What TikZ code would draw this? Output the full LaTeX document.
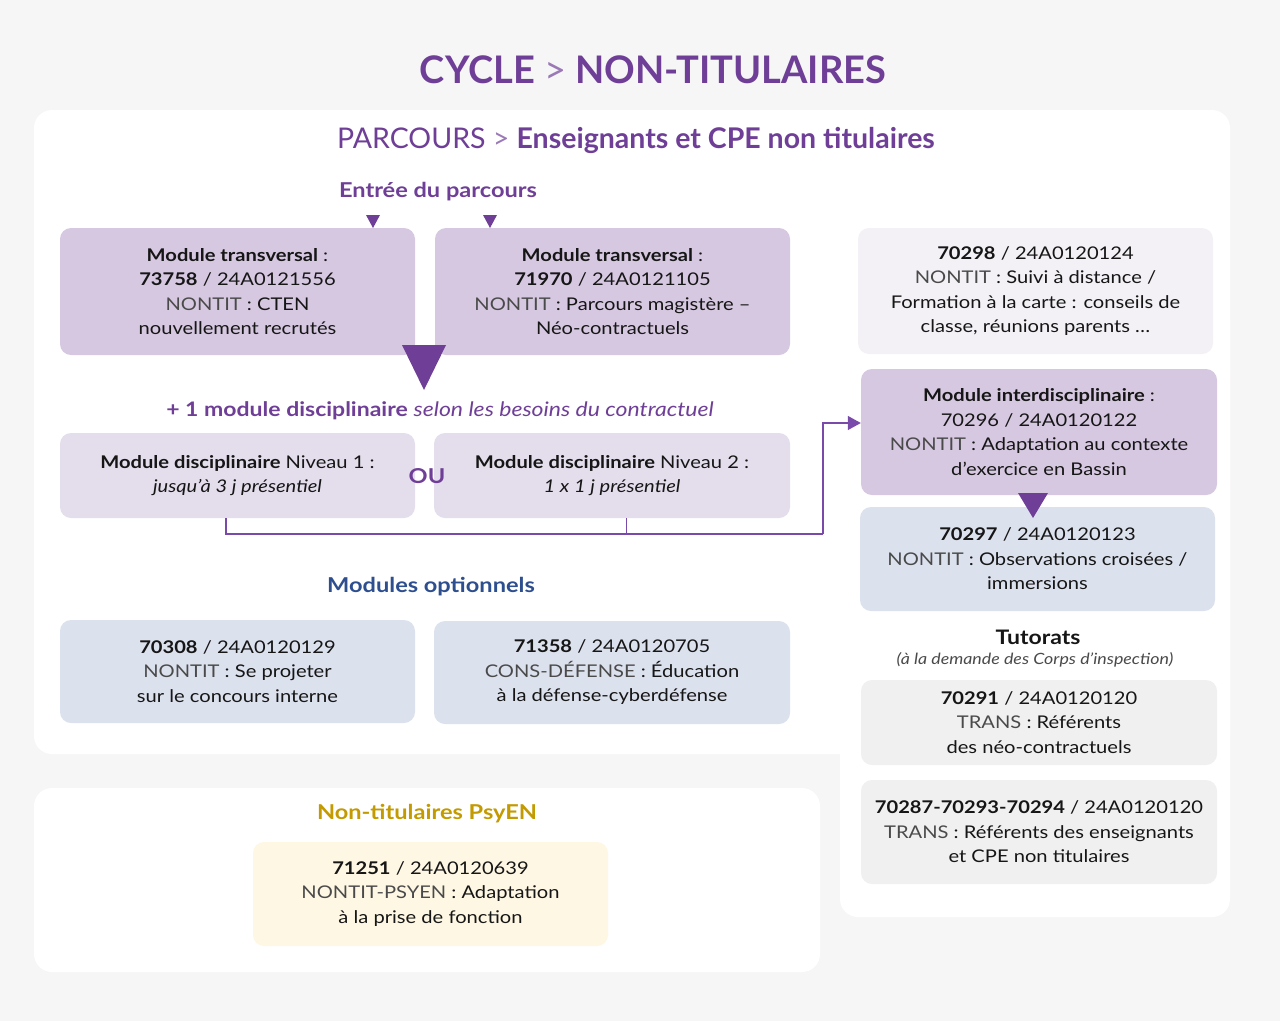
\documentclass[tikz,border=0pt]{standalone}
\usepackage{fontspec}
\setmainfont{Lato}[FakeStretch=1.15]
\newfontfamily\plainlato{Lato}
\usetikzlibrary{calc,arrows.meta}
\definecolor{bg}{HTML}{F6F6F6}
\definecolor{pur}{HTML}{6F3F97}
\definecolor{boxp}{HTML}{D6C8E1}
\definecolor{boxl}{HTML}{E4DDEC}
\definecolor{boxb}{HTML}{DCE1EE}
\definecolor{boxg}{HTML}{F3F1F6}
\definecolor{boxt}{HTML}{F0F0F0}
\definecolor{boxy}{HTML}{FEF7E3}
\definecolor{blu}{HTML}{2E4F8F}
\definecolor{gold}{HTML}{C39A00}
\definecolor{lnp}{HTML}{7A4AAA}
\definecolor{tx}{HTML}{161616}
\definecolor{lt}{HTML}{4A4A4A}
\newcommand{\lgt}[1]{{\color{lt}#1}}
\begin{document}
\begin{tikzpicture}[x=1pt,y=-1pt,
  mod/.style={rounded corners=11pt, inner sep=0pt, align=center, text=tx,
    font=\fontsize{17.5}{24.5}\selectfont},
  head/.style={text=pur, font=\fontsize{20.5}{24}\selectfont\bfseries, inner sep=0pt},
  conn/.style={draw=lnp, line width=1.3pt},
  tri/.style={fill=pur}]
\fill[bg] (0,0) rectangle (1280,1021);
\useasboundingbox (0,0) rectangle (1280,1021);
% panels
\fill[white, rounded corners=18pt] (34,110) rectangle (1230,754);
\fill[white, rounded corners=18pt] (840,300) rectangle (1230,917);
\fill[white, rounded corners=18pt] (34,788) rectangle (820,972);
% titles
\node[text=pur, font=\plainlato\fontsize{38}{40}\selectfont\bfseries, inner sep=0pt] (title) at (653,70) {CYCLE {\mdseries\color{pur!70}>} NON-TITULAIRES};
\node[text=pur, font=\plainlato\fontsize{28.5}{30}\selectfont, inner sep=0pt] (parc) at (636,140) {PARCOURS {\color{pur!70}>} \textbf{Enseignants et CPE non titulaires}};
\node[head] (entree) at (438,192) {Entrée du parcours};
% boxes
\node[mod, fill=boxp, minimum width=355pt, minimum height=127pt] (A) at (237.5,291.5)
 {\textbf{Module transversal} :\\ \textbf{73758} / 24A0121556\\ \lgt{NONTIT} : CTEN\\ nouvellement recrutés};
\node[mod, fill=boxp, minimum width=355pt, minimum height=127pt] (B) at (612.5,291.5)
 {\textbf{Module transversal} :\\ \textbf{71970} / 24A0121105\\ \lgt{NONTIT} : Parcours magistère –\\ Néo-contractuels};
\node[text=pur, font=\fontsize{20}{24}\selectfont, inner sep=0pt] (plus) at (440,411)
 {\textbf{+ 1 module disciplinaire} \textit{selon les besoins du contractuel}};
\node[mod, fill=boxl, minimum width=355pt, minimum height=85pt] (C) at (237.5,475.5)
 {\textbf{Module disciplinaire} Niveau 1 :\\ \textit{jusqu’à 3 j présentiel}};
\node[mod, fill=boxl, minimum width=356pt, minimum height=85pt] (D) at (612,475.5)
 {\textbf{Module disciplinaire} Niveau 2 :\\ \textit{1 x 1 j présentiel}};
\node[head] (ou) at (427,476) {OU};
\node[head, text=blu] (opt) at (431,587) {Modules optionnels};
\node[mod, fill=boxb, minimum width=355pt, minimum height=103pt] (E) at (237.5,671.5)
 {\textbf{70308} / 24A0120129\\ \lgt{NONTIT} : Se projeter\\ sur le concours interne};
\node[mod, fill=boxb, minimum width=356pt, minimum height=103pt] (F) at (612,672.5)
 {\textbf{71358} / 24A0120705\\ \lgt{CONS-DÉFENSE} : Éducation\\ à la défense-cyberdéfense};
% right column
\node[mod, fill=boxg, minimum width=355pt, minimum height=126pt] (G) at (1035.5,291)
 {\textbf{70298} / 24A0120124\\ \lgt{NONTIT} : Suivi à distance /\\ Formation à la carte : conseils de\\ classe, réunions parents …};
\node[mod, fill=boxp, minimum width=356pt, minimum height=126pt] (H) at (1039,432)
 {\textbf{Module interdisciplinaire} :\\ 70296 / 24A0120122\\ \lgt{NONTIT} : Adaptation au contexte\\ d’exercice en Bassin};
\node[mod, fill=boxb, minimum width=355pt, minimum height=104pt] (I) at (1037.5,559)
 {\textbf{70297} / 24A0120123\\ \lgt{NONTIT} : Observations croisées /\\ immersions};
\node[text=tx, font=\fontsize{20}{24}\selectfont\bfseries, inner sep=0pt] (tut) at (1038,637) {Tutorats};
\node[text=lt, font=\fontsize{15.5}{18}\selectfont\itshape, inner sep=0pt] (tutsub) at (1035,660) {(à la demande des Corps d’inspection)};
\node[mod, fill=boxt, minimum width=356pt, minimum height=85pt] (J) at (1039,722.5)
 {\textbf{70291} / 24A0120120\\ \lgt{TRANS} : Référents\\ des néo-contractuels};
\node[mod, fill=boxt, minimum width=356pt, minimum height=104pt] (K) at (1039,832)
 {\textbf{70287-70293-70294} / 24A0120120\\ \lgt{TRANS} : Référents des enseignants\\ et CPE non titulaires};
% PsyEN
\node[head, text=gold] (psy) at (427,814) {Non-titulaires PsyEN};
\node[mod, fill=boxy, minimum width=355pt, minimum height=104pt] (L) at (430.5,894)
 {\textbf{71251} / 24A0120639\\ \lgt{NONTIT-PSYEN} : Adaptation\\ à la prise de fonction};
% triangles
\fill[tri] (366,215) -- (380,215) -- (373,228) -- cycle;
\fill[tri] (483,215) -- (497,215) -- (490,228) -- cycle;
\fill[tri] (402,345) -- (446,345) -- (424,390) -- cycle;
\fill[tri] (1018,493) -- (1048,493) -- (1033,518) -- cycle;
% connectors
\coordinate (c1) at ($(C.south west)!0.468!(C.south east)$);
\coordinate (d1) at ($(D.south west)!0.54!(D.south east)$);
\coordinate (j) at (823,534);
\coordinate (h1) at ($(H.west)+(0,-9)$);
\draw[conn] (c1) |- (j);
\draw[conn] (d1) -- (d1 |- j);
\draw[conn, -{Triangle[length=13pt,width=14pt]}] (j) |- (h1);
\end{tikzpicture}
\end{document}
